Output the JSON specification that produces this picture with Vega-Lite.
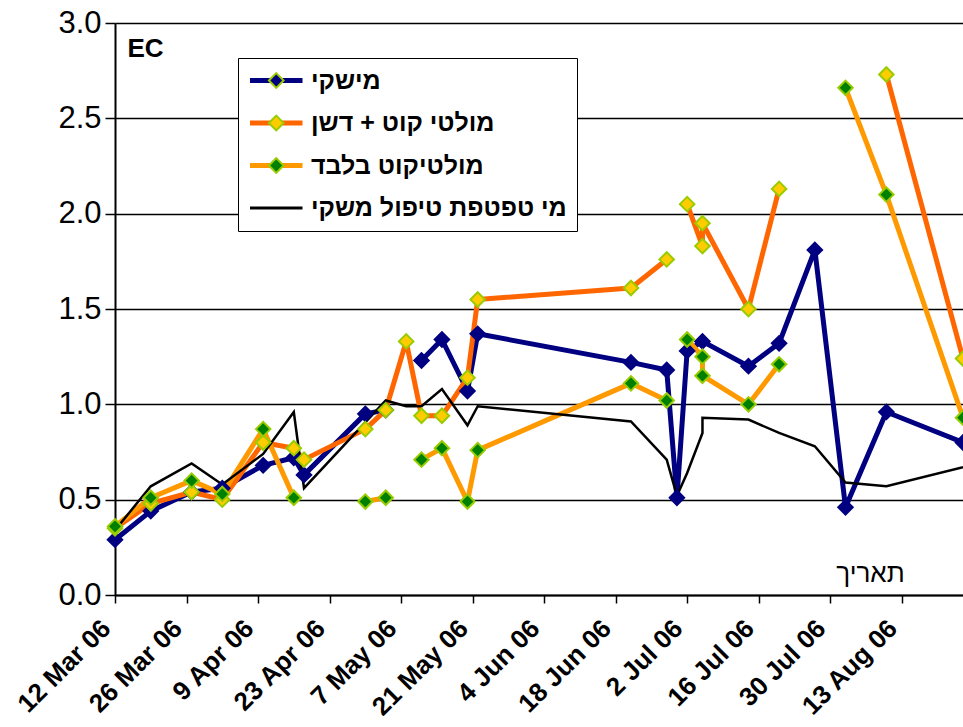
{
  "$schema": "https://vega.github.io/schema/vega-lite/v6.json",
  "width": 848,
  "height": 572,
  "autosize": {"type": "none"},
  "padding": {"left": 115, "top": 23, "right": 0, "bottom": 132},
  "background": "white",
  "config": {"font": "Liberation Sans", "view": {"stroke": null}},
  "data": {"values": [
    {"s": "מישקי", "g": "A1", "i": 1, "t": "2006-03-12", "v": 0.29},
    {"s": "מישקי", "g": "A1", "i": 2, "t": "2006-03-19", "v": 0.44},
    {"s": "מישקי", "g": "A1", "i": 3, "t": "2006-03-27", "v": 0.54},
    {"s": "מישקי", "g": "A1", "i": 4, "t": "2006-04-02", "v": 0.56},
    {"s": "מישקי", "g": "A1", "i": 5, "t": "2006-04-10", "v": 0.68},
    {"s": "מישקי", "g": "A1", "i": 6, "t": "2006-04-16", "v": 0.72},
    {"s": "מישקי", "g": "A1", "i": 7, "t": "2006-04-18", "v": 0.63},
    {"s": "מישקי", "g": "A1", "i": 8, "t": "2006-04-30", "v": 0.95},
    {"s": "מישקי", "g": "A1", "i": 9, "t": "2006-05-04", "v": 0.97},
    {"s": "מישקי", "g": "A2", "i": 10, "t": "2006-05-11", "v": 1.23},
    {"s": "מישקי", "g": "A2", "i": 11, "t": "2006-05-15", "v": 1.34},
    {"s": "מישקי", "g": "A2", "i": 12, "t": "2006-05-20", "v": 1.07},
    {"s": "מישקי", "g": "A2", "i": 13, "t": "2006-05-22", "v": 1.37},
    {"s": "מישקי", "g": "A2", "i": 14, "t": "2006-06-21", "v": 1.22},
    {"s": "מישקי", "g": "A2", "i": 15, "t": "2006-06-28", "v": 1.18},
    {"s": "מישקי", "g": "A2", "i": 16, "t": "2006-06-30", "v": 0.51},
    {"s": "מישקי", "g": "A2", "i": 17, "t": "2006-07-02", "v": 1.28},
    {"s": "מישקי", "g": "A2", "i": 18, "t": "2006-07-05", "v": 1.33},
    {"s": "מישקי", "g": "A2", "i": 19, "t": "2006-07-14", "v": 1.20},
    {"s": "מישקי", "g": "A2", "i": 20, "t": "2006-07-20", "v": 1.32},
    {"s": "מישקי", "g": "A2", "i": 21, "t": "2006-07-27", "v": 1.81},
    {"s": "מישקי", "g": "A2", "i": 22, "t": "2006-08-02", "v": 0.46},
    {"s": "מישקי", "g": "A2", "i": 23, "t": "2006-08-10", "v": 0.96},
    {"s": "מישקי", "g": "A2", "i": 24, "t": "2006-08-25", "v": 0.80},

    {"s": "מולטי קוט + דשן", "g": "B1", "i": 31, "t": "2006-03-12", "v": 0.35},
    {"s": "מולטי קוט + דשן", "g": "B1", "i": 32, "t": "2006-03-19", "v": 0.48},
    {"s": "מולטי קוט + דשן", "g": "B1", "i": 33, "t": "2006-03-27", "v": 0.54},
    {"s": "מולטי קוט + דשן", "g": "B1", "i": 34, "t": "2006-04-02", "v": 0.50},
    {"s": "מולטי קוט + דשן", "g": "B1", "i": 35, "t": "2006-04-10", "v": 0.80},
    {"s": "מולטי קוט + דשן", "g": "B1", "i": 36, "t": "2006-04-16", "v": 0.77},
    {"s": "מולטי קוט + דשן", "g": "B1", "i": 37, "t": "2006-04-18", "v": 0.71},
    {"s": "מולטי קוט + דשן", "g": "B1", "i": 38, "t": "2006-04-30", "v": 0.87},
    {"s": "מולטי קוט + דשן", "g": "B1", "i": 39, "t": "2006-05-04", "v": 0.97},
    {"s": "מולטי קוט + דשן", "g": "B1", "i": 40, "t": "2006-05-08", "v": 1.33},
    {"s": "מולטי קוט + דשן", "g": "B1", "i": 41, "t": "2006-05-11", "v": 0.94},
    {"s": "מולטי קוט + דשן", "g": "B1", "i": 42, "t": "2006-05-15", "v": 0.94},
    {"s": "מולטי קוט + דשן", "g": "B1", "i": 43, "t": "2006-05-20", "v": 1.14},
    {"s": "מולטי קוט + דשן", "g": "B1", "i": 44, "t": "2006-05-22", "v": 1.55},
    {"s": "מולטי קוט + דשן", "g": "B1", "i": 45, "t": "2006-06-21", "v": 1.61},
    {"s": "מולטי קוט + דשן", "g": "B1", "i": 46, "t": "2006-06-28", "v": 1.76},
    {"s": "מולטי קוט + דשן", "g": "B2", "i": 47, "t": "2006-07-02", "v": 2.05},
    {"s": "מולטי קוט + דשן", "g": "B2", "i": 48, "t": "2006-07-05", "v": 1.83},
    {"s": "מולטי קוט + דשן", "g": "B2", "i": 49, "t": "2006-07-05", "v": 1.95},
    {"s": "מולטי קוט + דשן", "g": "B2", "i": 50, "t": "2006-07-14", "v": 1.50},
    {"s": "מולטי קוט + דשן", "g": "B2", "i": 51, "t": "2006-07-20", "v": 2.13},
    {"s": "מולטי קוט + דשן", "g": "B3", "i": 52, "t": "2006-08-10", "v": 2.73},
    {"s": "מולטי קוט + דשן", "g": "B3", "i": 53, "t": "2006-08-25", "v": 1.24},

    {"s": "מולטיקוט בלבד", "g": "C1", "i": 61, "t": "2006-03-12", "v": 0.36},
    {"s": "מולטיקוט בלבד", "g": "C1", "i": 62, "t": "2006-03-19", "v": 0.51},
    {"s": "מולטיקוט בלבד", "g": "C1", "i": 63, "t": "2006-03-27", "v": 0.60},
    {"s": "מולטיקוט בלבד", "g": "C1", "i": 64, "t": "2006-04-02", "v": 0.53},
    {"s": "מולטיקוט בלבד", "g": "C1", "i": 65, "t": "2006-04-10", "v": 0.87},
    {"s": "מולטיקוט בלבד", "g": "C1", "i": 66, "t": "2006-04-16", "v": 0.51},
    {"s": "מולטיקוט בלבד", "g": "C2", "i": 67, "t": "2006-04-30", "v": 0.49},
    {"s": "מולטיקוט בלבד", "g": "C2", "i": 68, "t": "2006-05-04", "v": 0.51},
    {"s": "מולטיקוט בלבד", "g": "C3", "i": 69, "t": "2006-05-11", "v": 0.71},
    {"s": "מולטיקוט בלבד", "g": "C3", "i": 70, "t": "2006-05-15", "v": 0.77},
    {"s": "מולטיקוט בלבד", "g": "C3", "i": 71, "t": "2006-05-20", "v": 0.49},
    {"s": "מולטיקוט בלבד", "g": "C3", "i": 72, "t": "2006-05-22", "v": 0.76},
    {"s": "מולטיקוט בלבד", "g": "C3", "i": 73, "t": "2006-06-21", "v": 1.11},
    {"s": "מולטיקוט בלבד", "g": "C3", "i": 74, "t": "2006-06-28", "v": 1.02},
    {"s": "מולטיקוט בלבד", "g": "C4", "i": 75, "t": "2006-07-02", "v": 1.34},
    {"s": "מולטיקוט בלבד", "g": "C4", "i": 76, "t": "2006-07-05", "v": 1.25},
    {"s": "מולטיקוט בלבד", "g": "C4", "i": 77, "t": "2006-07-05", "v": 1.15},
    {"s": "מולטיקוט בלבד", "g": "C4", "i": 78, "t": "2006-07-14", "v": 1.00},
    {"s": "מולטיקוט בלבד", "g": "C4", "i": 79, "t": "2006-07-20", "v": 1.21},
    {"s": "מולטיקוט בלבד", "g": "C5", "i": 80, "t": "2006-08-02", "v": 2.66},
    {"s": "מולטיקוט בלבד", "g": "C5", "i": 81, "t": "2006-08-10", "v": 2.10},
    {"s": "מולטיקוט בלבד", "g": "C5", "i": 82, "t": "2006-08-25", "v": 0.93},

    {"s": "מי טפטפת טיפול משקי", "g": "D1", "i": 91, "t": "2006-03-12", "v": 0.34},
    {"s": "מי טפטפת טיפול משקי", "g": "D1", "i": 92, "t": "2006-03-19", "v": 0.57},
    {"s": "מי טפטפת טיפול משקי", "g": "D1", "i": 93, "t": "2006-03-27", "v": 0.69},
    {"s": "מי טפטפת טיפול משקי", "g": "D1", "i": 94, "t": "2006-04-02", "v": 0.58},
    {"s": "מי טפטפת טיפול משקי", "g": "D1", "i": 95, "t": "2006-04-10", "v": 0.74},
    {"s": "מי טפטפת טיפול משקי", "g": "D1", "i": 96, "t": "2006-04-16", "v": 0.96},
    {"s": "מי טפטפת טיפול משקי", "g": "D1", "i": 97, "t": "2006-04-18", "v": 0.56},
    {"s": "מי טפטפת טיפול משקי", "g": "D1", "i": 98, "t": "2006-05-04", "v": 1.02},
    {"s": "מי טפטפת טיפול משקי", "g": "D1", "i": 99, "t": "2006-05-08", "v": 0.99},
    {"s": "מי טפטפת טיפול משקי", "g": "D1", "i": 100, "t": "2006-05-11", "v": 0.99},
    {"s": "מי טפטפת טיפול משקי", "g": "D1", "i": 101, "t": "2006-05-15", "v": 1.08},
    {"s": "מי טפטפת טיפול משקי", "g": "D1", "i": 102, "t": "2006-05-20", "v": 0.89},
    {"s": "מי טפטפת טיפול משקי", "g": "D1", "i": 103, "t": "2006-05-22", "v": 0.99},
    {"s": "מי טפטפת טיפול משקי", "g": "D1", "i": 104, "t": "2006-06-21", "v": 0.91},
    {"s": "מי טפטפת טיפול משקי", "g": "D1", "i": 105, "t": "2006-06-28", "v": 0.71},
    {"s": "מי טפטפת טיפול משקי", "g": "D1", "i": 106, "t": "2006-06-30", "v": 0.52},
    {"s": "מי טפטפת טיפול משקי", "g": "D1", "i": 107, "t": "2006-07-02", "v": 0.64},
    {"s": "מי טפטפת טיפול משקי", "g": "D1", "i": 108, "t": "2006-07-05", "v": 0.85},
    {"s": "מי טפטפת טיפול משקי", "g": "D1", "i": 109, "t": "2006-07-05", "v": 0.93},
    {"s": "מי טפטפת טיפול משקי", "g": "D1", "i": 110, "t": "2006-07-14", "v": 0.92},
    {"s": "מי טפטפת טיפול משקי", "g": "D1", "i": 111, "t": "2006-07-20", "v": 0.85},
    {"s": "מי טפטפת טיפול משקי", "g": "D1", "i": 112, "t": "2006-07-27", "v": 0.78},
    {"s": "מי טפטפת טיפול משקי", "g": "D1", "i": 113, "t": "2006-08-02", "v": 0.59},
    {"s": "מי טפטפת טיפול משקי", "g": "D1", "i": 114, "t": "2006-08-10", "v": 0.57},
    {"s": "מי טפטפת טיפול משקי", "g": "D1", "i": 115, "t": "2006-08-25", "v": 0.67}
  ]},
  "encoding": {
    "x": {
      "field": "t", "type": "temporal",
      "scale": {"type": "utc", "domain": [{"year": 2006, "month": 3, "date": 12, "utc": true}, {"year": 2006, "month": 8, "date": 25, "utc": true}]},
      "axis": {
        "values": [
          {"year": 2006, "month": 3, "date": 12, "utc": true},
          {"year": 2006, "month": 3, "date": 26, "utc": true},
          {"year": 2006, "month": 4, "date": 9, "utc": true},
          {"year": 2006, "month": 4, "date": 23, "utc": true},
          {"year": 2006, "month": 5, "date": 7, "utc": true},
          {"year": 2006, "month": 5, "date": 21, "utc": true},
          {"year": 2006, "month": 6, "date": 4, "utc": true},
          {"year": 2006, "month": 6, "date": 18, "utc": true},
          {"year": 2006, "month": 7, "date": 2, "utc": true},
          {"year": 2006, "month": 7, "date": 16, "utc": true},
          {"year": 2006, "month": 7, "date": 30, "utc": true},
          {"year": 2006, "month": 8, "date": 13, "utc": true}
        ],
        "labelExpr": "utcFormat(datum.value, '%-d %b %y')",
        "labelAngle": -45, "labelAlign": "right", "labelBaseline": "middle",
        "labelFontSize": 26, "labelFontWeight": "bold", "labelColor": "black",
        "labelPadding": 21, "labelOffset": -9, "labelOverlap": false, "labelBound": false, "labelFlush": false,
        "tickSize": 8, "tickColor": "black", "tickWidth": 1.5,
        "domainColor": "black", "domainWidth": 2, "grid": false,
        "title": "תאריך", "titleX": 755, "titleY": -14, "titleAlign": "center", "titleBaseline": "alphabetic",
        "titleFontSize": 26, "titleFontWeight": "normal", "titleColor": "black"
      }
    },
    "y": {
      "field": "v", "type": "quantitative",
      "scale": {"domain": [0, 3], "nice": false},
      "axis": {
        "values": [0, 0.5, 1, 1.5, 2, 2.5, 3], "format": ".1f",
        "labelFontSize": 31, "labelColor": "black", "labelPadding": 4,
        "tickSize": 10, "tickColor": "black", "tickWidth": 1.5,
        "domainColor": "black", "domainWidth": 2,
        "grid": true, "gridColor": "black", "gridWidth": 1.5,
        "title": "EC", "titleAngle": 0, "titleX": 12, "titleY": 33, "titleAlign": "left", "titleBaseline": "alphabetic",
        "titleFontSize": 26, "titleFontWeight": "bold", "titleColor": "black"
      }
    }
  },
  "layer": [
    {
      "transform": [{"filter": "datum.s !== 'מי טפטפת טיפול משקי'"}],
      "mark": {"type": "line", "strokeWidth": 5, "strokeJoin": "round"},
      "encoding": {
        "stroke": {
          "field": "s", "type": "nominal",
          "scale": {"domain": ["מישקי", "מולטי קוט + דשן", "מולטיקוט בלבד", "מי טפטפת טיפול משקי"], "range": ["#000080", "#FF6600", "#FF9900", "#000000"]},
          "legend": {
            "orient": "none", "legendX": 123, "legendY": 35, "title": null, "padding": 10,
            "fillColor": "white", "strokeColor": "black",
            "symbolType": "M-1,0H4", "symbolSize": 441, "symbolStrokeWidth": 5,
            "labelFontSize": 25, "labelFontWeight": "bold", "labelColor": "black", "labelOffset": 38,
            "rowPadding": 16.5, "labelLimit": 400,
            "encode": {"symbols": {"update": {"strokeWidth": {"signal": "datum.value === 'מי טפטפת טיפול משקי' ? 3 : 5"}}}}
          }
        },
        "detail": {"field": "g"},
        "order": {"field": "i", "type": "quantitative"}
      }
    },
    {
      "transform": [{"filter": "datum.s === 'מי טפטפת טיפול משקי'"}],
      "mark": {"type": "line", "strokeWidth": 2.5},
      "encoding": {
        "stroke": {
          "field": "s", "type": "nominal",
          "scale": {"domain": ["מישקי", "מולטי קוט + דשן", "מולטיקוט בלבד", "מי טפטפת טיפול משקי"], "range": ["#000080", "#FF6600", "#FF9900", "#000000"]},
          "legend": {
            "orient": "none", "legendX": 123, "legendY": 35, "title": null, "padding": 10,
            "fillColor": "white", "strokeColor": "black",
            "symbolType": "M-1,0H4", "symbolSize": 441, "symbolStrokeWidth": 5,
            "labelFontSize": 25, "labelFontWeight": "bold", "labelColor": "black", "labelOffset": 38,
            "rowPadding": 16.5, "labelLimit": 400,
            "encode": {"symbols": {"update": {"strokeWidth": {"signal": "datum.value === 'מי טפטפת טיפול משקי' ? 3 : 5"}}}}
          }
        },
        "detail": {"field": "g"},
        "order": {"field": "i", "type": "quantitative"}
      }
    },
    {
      "transform": [{"filter": "datum.s !== 'מי טפטפת טיפול משקי'"}],
      "mark": {"type": "point", "shape": "diamond", "filled": true, "size": 210, "strokeWidth": 2, "opacity": 1},
      "encoding": {
        "fill": {
          "field": "s", "type": "nominal",
          "scale": {"domain": ["מישקי", "מולטי קוט + דשן", "מולטיקוט בלבד"], "range": ["#000080", "#FFCC00", "#008000"]},
          "legend": {
            "orient": "none", "legendX": 123, "legendY": 35, "title": null, "padding": 10,
            "symbolType": "M0.8,0L1.5,-0.7L2.2,0L1.5,0.7Z", "symbolSize": 441, "symbolStrokeWidth": 2, "symbolOpacity": 1,
            "labelFontSize": 25, "labelFontWeight": "bold", "labelOffset": 38, "labelExpr": "''",
            "rowPadding": 16.5, "labelLimit": 400,
            "encode": {"symbols": {"update": {"stroke": {"signal": "datum.value === 'מישקי' ? '#000080' : '#99CC00'"}, "opacity": {"value": 1}}}}
          }
        },
        "stroke": {"condition": {"test": "datum.s === 'מישקי'", "value": "#000080"}, "value": "#99CC00"}
      }
    }
  ]
}
